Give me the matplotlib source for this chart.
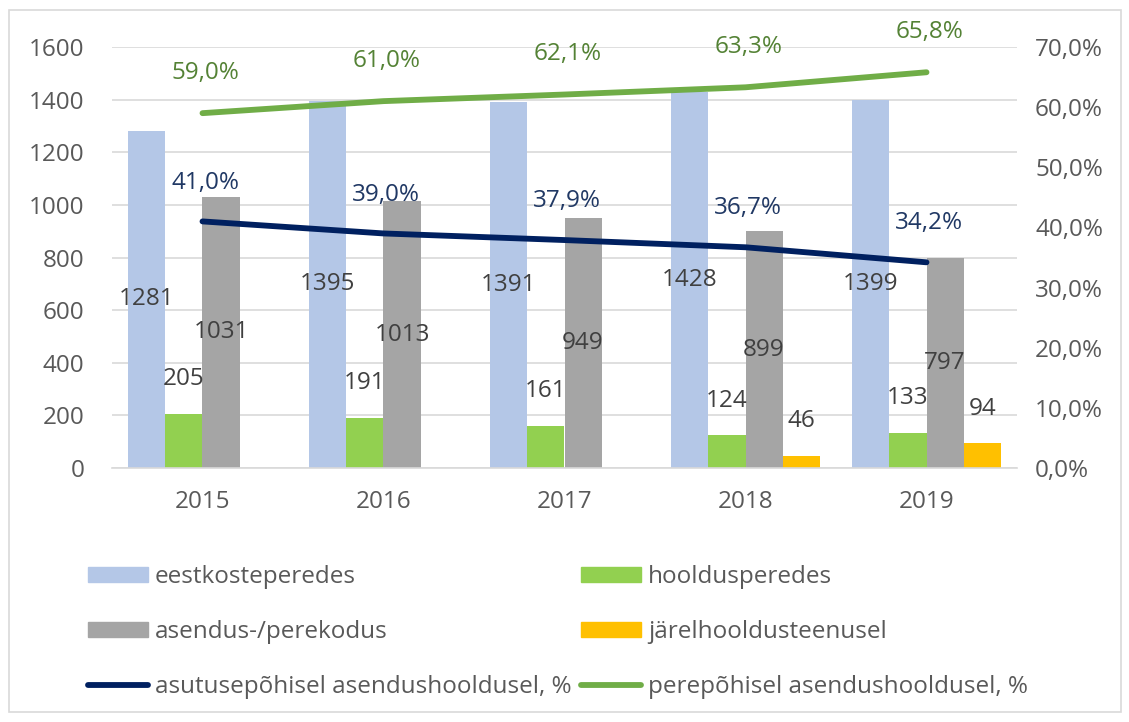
import matplotlib.pyplot as plt
import numpy as np
from matplotlib.patches import Patch, Rectangle
from matplotlib.lines import Line2D

years = ['2015', '2016', '2017', '2018', '2019']
eestkoste = [1281, 1395, 1391, 1428, 1399]
hooldus = [205, 191, 161, 124, 133]
asendus = [1031, 1013, 949, 899, 797]
jarelhooldus = [0, 0, 0, 46, 94]
asutus_pct = [41.0, 39.0, 37.9, 36.7, 34.2]
pere_pct = [59.0, 61.0, 62.1, 63.3, 65.8]

c_blue = '#B4C7E7'
c_green = '#92D050'
c_gray = '#A5A5A5'
c_orange = '#FFC000'
c_navy = '#002060'
c_gline = '#70AD47'
txt = '#595959'
fs = 17.5

plt.rcParams['font.family'] = ['Open Sans', 'DejaVu Sans']

fig = plt.figure(figsize=(11.29, 7.22), dpi=100)
fig.patches.append(Rectangle((0.008, 0.014), 0.985, 0.972, transform=fig.transFigure,
                             fill=False, edgecolor='#D9D9D9', lw=1.2))
ax = fig.add_axes([0.0992, 0.3518, 0.8016, 0.5831])
x = np.arange(len(years))
w = 0.205

series = [(eestkoste, c_blue, 'center'), (hooldus, c_green, 'above'),
          (asendus, c_gray, 'center'), (jarelhooldus, c_orange, 'above')]
for i, (vals, col, pos) in enumerate(series):
    xs = x + (i - 1.5) * w
    ax.bar(xs, vals, w, color=col, zorder=2)
    for xi, v in zip(xs, vals):
        if v == 0:
            continue
        if pos == 'center':
            ax.annotate(str(v), (xi, v / 2), ha='center', va='center',
                        fontsize=fs, color='#404040', zorder=5)
        else:
            ax.annotate(str(v), (xi, v), xytext=(0, 25), textcoords='offset points',
                        ha='center', va='center', fontsize=fs, color='#404040', zorder=5)

ax.set_xlim(-0.5, 4.5)
ax.set_ylim(0, 1600)
ax.set_yticks(range(0, 1601, 200))
ax.set_xticks(x)
ax.set_xticklabels(years)
ax.grid(axis='y', color='#D9D9D9', lw=1.2, zorder=0)
ax.set_axisbelow(True)
for s in ['top', 'right', 'left']:
    ax.spines[s].set_visible(False)
ax.spines['bottom'].set_color('#D9D9D9')
ax.spines['bottom'].set_linewidth(1.2)
ax.tick_params(length=0, labelsize=fs, colors=txt)
ax.tick_params(axis='y', pad=20)
ax.tick_params(axis='x', pad=16)

ax2 = ax.twinx()
ax2.set_ylim(0, 70)
ax2.set_yticks(range(0, 71, 10))
ax2.set_yticklabels([f'{t},0%' for t in range(0, 71, 10)])
for s in ax2.spines.values():
    s.set_visible(False)
ax2.tick_params(length=0, labelsize=fs, colors=txt, pad=13)
ax2.plot(x, asutus_pct, color=c_navy, lw=4.2, solid_capstyle='round', zorder=3)
ax2.plot(x, pere_pct, color=c_gline, lw=4.2, solid_capstyle='round', zorder=3)
for xi, v in zip(x, asutus_pct):
    ax2.annotate(f'{v:.1f}%'.replace('.', ','), (xi, v), xytext=(2, 28),
                 textcoords='offset points', ha='center', va='center',
                 fontsize=fs, color='#203864')
for xi, v in zip(x, pere_pct):
    ax2.annotate(f'{v:.1f}%'.replace('.', ','), (xi, v), xytext=(2, 29),
                 textcoords='offset points', ha='center', va='center',
                 fontsize=fs, color='#548235')

handles = [Patch(color=c_blue), Patch(color=c_gray),
           Line2D([], [], color=c_navy, lw=4.2, solid_capstyle='round'),
           Patch(color=c_green), Patch(color=c_orange),
           Line2D([], [], color=c_gline, lw=4.2, solid_capstyle='round')]
labels = ['eestkosteperedes', 'asendus-/perekodus', 'asutusepõhisel asendushooldusel, %',
          'hooldusperedes', 'järelhooldusteenusel', 'perepõhisel asendushooldusel, %']
leg = fig.legend(handles, labels, ncol=2, loc='upper left',
                 bbox_to_anchor=(88 / 1129, 1 - 565 / 722),
                 frameon=False, fontsize=fs, handlelength=2.45, handleheight=0.6,
                 handletextpad=0.3, columnspacing=0.4, labelspacing=1.28,
                 borderpad=0, borderaxespad=0, labelcolor=txt)

fig.savefig('out.png', dpi=100)
